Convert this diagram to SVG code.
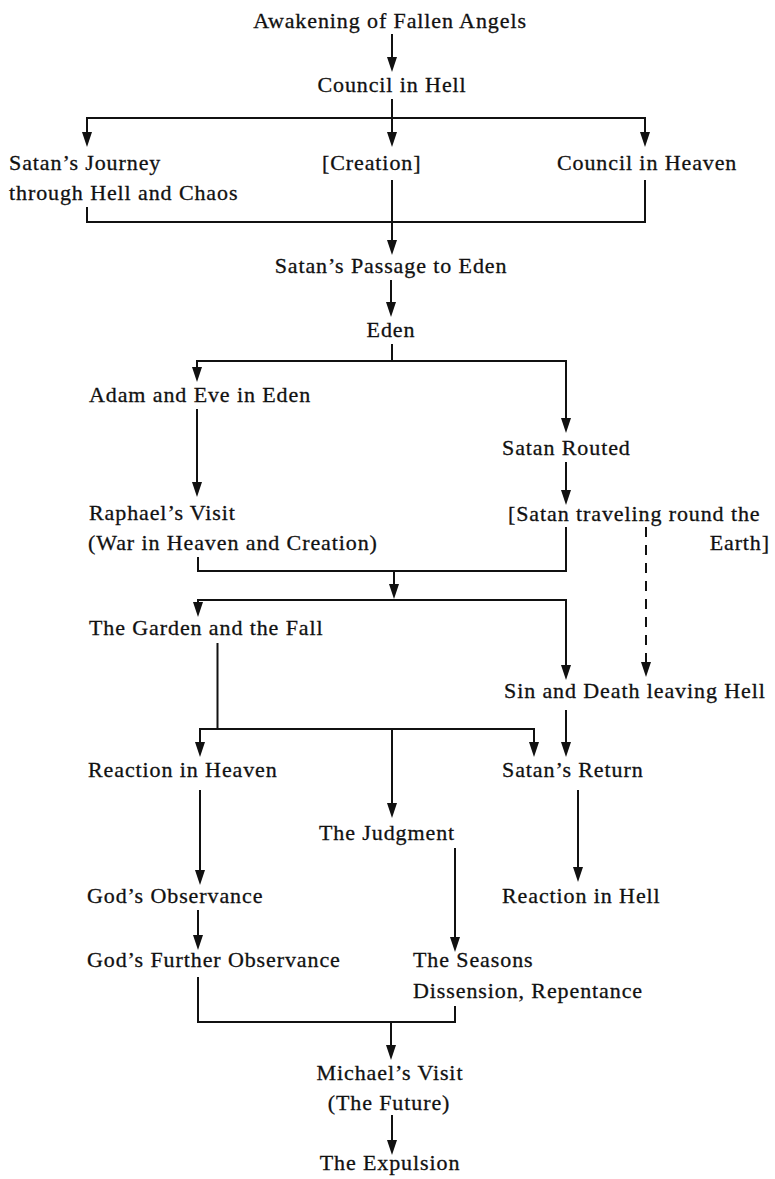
<svg xmlns="http://www.w3.org/2000/svg" width="775" height="1179" viewBox="0 0 775 1179">
<style>
text{font-family:"Liberation Serif","Times New Roman",serif;font-size:22px;letter-spacing:0.9px;fill:#111;stroke:#111;stroke-width:0.3px}
.m{text-anchor:middle}
.e{text-anchor:end}
.c{fill:none;stroke:#111;stroke-width:2;stroke-linejoin:miter}
.a{marker-end:url(#ah)}
.d{stroke-dasharray:10 8}
</style>
<defs>
<marker id="ah" markerUnits="userSpaceOnUse" markerWidth="16" markerHeight="12" refX="10" refY="5" orient="auto">
<path d="M0,0 L15,5 L0,10 z" fill="#111"/>
</marker>
</defs>
<rect width="775" height="1179" fill="#fff"/>
<g id="connectors">
<polyline class="c a" points="392,34 392,67"/>
<polyline class="c" points="392,99 392,118"/>
<polyline class="c" points="87,142 87,118 645,118 645,142"/>
<polyline class="c a" points="87,118 87,142"/>
<polyline class="c a" points="392,118 392,142"/>
<polyline class="c a" points="645,118 645,142"/>
<polyline class="c" points="87,207 87,222 645,222 645,180"/>
<polyline class="c a" points="392,180 392,250"/>
<polyline class="c a" points="391,280 391,312"/>
<polyline class="c" points="392,344 392,361"/>
<polyline class="c" points="197,377 197,361 566,361 566,428"/>
<polyline class="c a" points="197,361 197,377"/>
<polyline class="c a" points="566,361 566,428"/>
<polyline class="c a" points="197,409 197,492"/>
<polyline class="c a" points="566,462 566,500"/>
<polyline class="c" points="198,557 198,571 566,571 566,527"/>
<polyline class="c a" points="394,571 394,594"/>
<polyline class="c" points="198,612 198,600 566,600 566,675"/>
<polyline class="c a" points="198,600 198,612"/>
<polyline class="c a" points="566,600 566,675"/>
<polyline class="c d a" points="646,527 646,672"/>
<polyline class="c" points="217.5,643 217.5,729"/>
<polyline class="c" points="200,752 200,729 534,729 534,752"/>
<polyline class="c a" points="200,729 200,752"/>
<polyline class="c a" points="534,729 534,752"/>
<polyline class="c a" points="392,729 392,813"/>
<polyline class="c a" points="566,710 566,752"/>
<polyline class="c a" points="200,790 200,880"/>
<polyline class="c a" points="578,790 578,877"/>
<polyline class="c a" points="455,848 455,947"/>
<polyline class="c a" points="198,910 198,945"/>
<polyline class="c" points="198,977 198,1022 455,1022 455,1006"/>
<polyline class="c a" points="391,1022 391,1055"/>
<polyline class="c a" points="392,1115 392,1150"/>
</g>
<g id="n1"><text class="m" x="390" y="28">Awakening of Fallen Angels</text></g>
<g id="n2"><text class="m" x="392" y="92">Council in Hell</text></g>
<g id="n3"><text x="9" y="170">Satan&#8217;s Journey</text><text x="9" y="200">through Hell and Chaos</text></g>
<g id="n4"><text x="322" y="170">[Creation]</text></g>
<g id="n5"><text x="557" y="170">Council in Heaven</text></g>
<g id="n6"><text class="m" x="391" y="273">Satan&#8217;s Passage to Eden</text></g>
<g id="n7"><text class="m" x="391" y="337">Eden</text></g>
<g id="n8"><text x="89" y="402">Adam and Eve in Eden</text></g>
<g id="n9"><text x="502" y="455">Satan Routed</text></g>
<g id="n10"><text x="89" y="520">Raphael&#8217;s Visit</text><text x="88" y="550">(War in Heaven and Creation)</text></g>
<g id="n11"><text x="508" y="521">[Satan traveling round the</text><text class="e" x="770" y="550">Earth]</text></g>
<g id="n12"><text x="89" y="635">The Garden and the Fall</text></g>
<g id="n13"><text x="504" y="698">Sin and Death leaving Hell</text></g>
<g id="n14"><text x="88" y="777">Reaction in Heaven</text></g>
<g id="n15"><text x="502" y="777">Satan&#8217;s Return</text></g>
<g id="n16"><text x="319" y="840">The Judgment</text></g>
<g id="n17"><text x="87" y="903">God&#8217;s Observance</text></g>
<g id="n18"><text x="502" y="903">Reaction in Hell</text></g>
<g id="n19"><text x="87" y="967">God&#8217;s Further Observance</text></g>
<g id="n20"><text x="413" y="967">The Seasons</text><text x="413" y="998">Dissension, Repentance</text></g>
<g id="n21"><text class="m" x="390" y="1080">Michael&#8217;s Visit</text><text class="m" x="389" y="1110">(The Future)</text></g>
<g id="n22"><text class="m" x="390" y="1170">The Expulsion</text></g>
</svg>
